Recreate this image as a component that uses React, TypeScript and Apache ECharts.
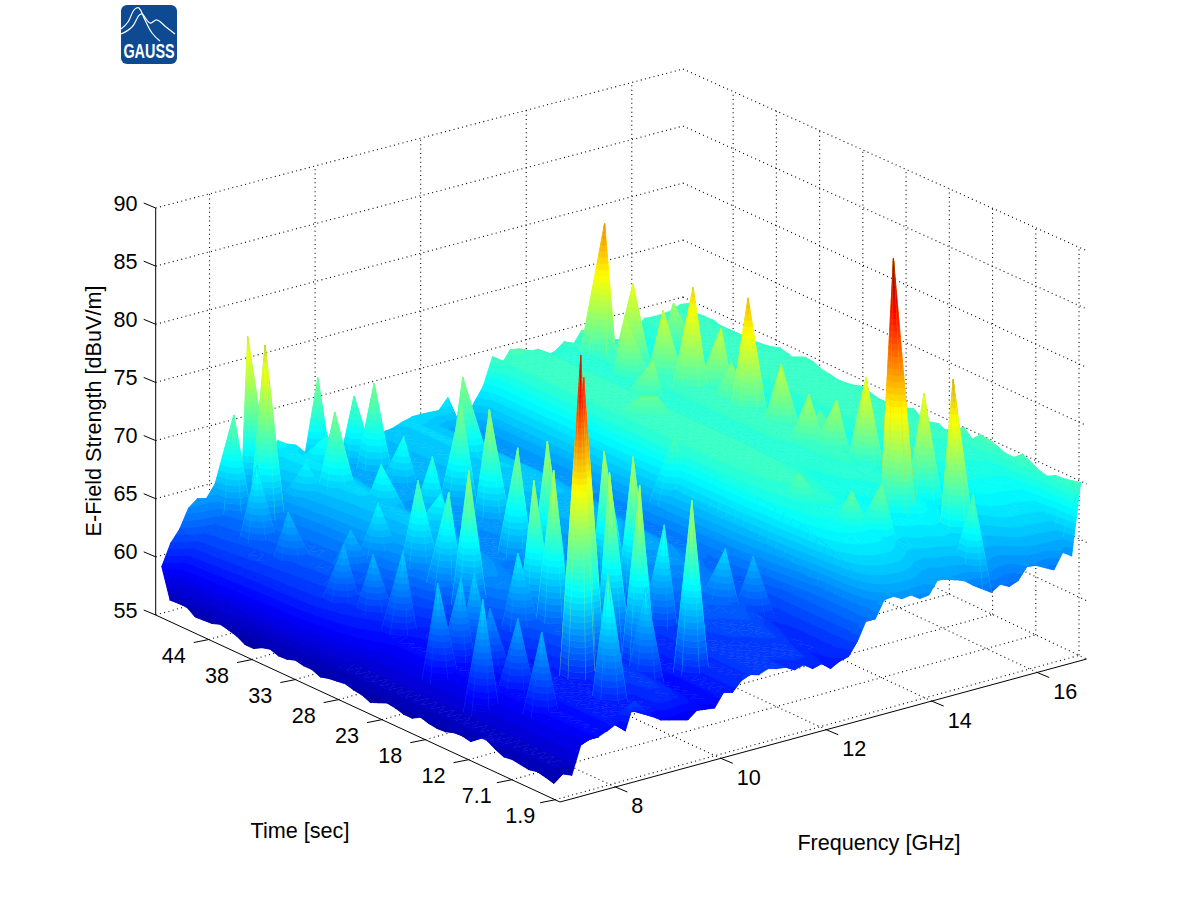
import React, { useEffect, useRef } from "react";
import * as echarts from "echarts";

const zTicks = [55, 60, 65, 70, 75, 80, 85, 90];
const freqTicks = [8, 10, 12, 14, 16];
const timeTickLabels = ["1.9", "7.1", "12", "18", "23", "28", "33", "38", "44"];

const FREQ_MIN = 6.95, FREQ_MAX = 16.94;
const TIME_MIN = 1.9, TIME_MAX = 50.1;
const DB_MIN = 55, DB_MAX = 90;
const COLOR_MIN = 55, COLOR_MAX = 88.5;

// dB along the front row (earliest time), low to high frequency
const frontEdge = [56.3,56.9,56.6,58.9,59.2,59.2,59.5,59.9,59.1,61.4,60.6,59.7,59.2,59,58.8,58.6,59.2,59.1,59,60.1,59.9,60.7,61,60.8,61.1,60.9,60.8,60.4,60.6,60.1,60.3,59.7,60.1,60.3,61.4,63,62.9,64.3,64.4,64,64.1,63.6,63.7,64.8,64.7,64.4,64.1,63.5,63,62.5,63,62.6,62.9,63.9,63.8,63.4,63,64.3,63.8,69.9];
// dB along the back row (latest time)
const backEdge = [59.4,61.2,62.2,63.8,64.4,64.2,65.3,65.5,65.5,66,66.4,66.6,66.9,67.5,67,66.7,65.6,64.9,64.7,64.5,64.9,64.9,64.9,65.1,65.3,65.8,65.9,66.2,66.4,66.4,66.35,66.3,67.2,65.2,64.9,66.2,67.4,69.7,68.8,69.9,69.75,69.3,69.3,68.5,68.7,69.3,68.8,69.9,69.5,69,68.6,68.2,68.2,68.6,69.45,69.4,69.4,69.5,69.8,69.7];
// dB along the lowest frequency, early to late
const lowFreqEdge = [56.3,56.5,56.65,56.5,56.6,56.7,56.6,56.9,57.3,57.3,56.6,56.75,56.7,56.45,56.4,56.5,56.7,56.3,56.3,56.5,56.6,56.3,56,56.3,56.4,56.6,56.5,56.4,56.2,56.5,56.5,56.65,56.4,56.35,56.6,56.4,56,56,56.4,56.6,56.75,56.5,56.45,56.4,56.9,56.9,56.85,59.4];
// dB along the highest frequency, early to late
const highFreqEdge = [69.9,69.7,69.55,69.5,69.1,69.3,69.7,70,69.4,69.4,69.7,69.9,70,69.3,70,69.4,68.9,69.3,69,69,69.6,69,69,69,69,69.2,69.5,69.2,68.9,69,69.2,69.3,69.6,69.7,68.9,69.3,69.5,69.2,68.9,68.9,69,68.8,68.6,68.9,69.2,69.2,68.8,69.7];
// settled dB level per frequency column
const plateau = [57,58.8,60.2,61.3,62,62.4,62.9,63.3,63.7,64.1,65,65.6,66.2,66.7,66.6,66.2,65.6,65,64.8,64.7,64.8,64.9,65,65.1,65.3,65.7,65.9,66,66,65.9,65.5,65,64.4,64,63.9,65,66.6,68.4,69.2,69.5,69.6,69.6,69.3,68.9,68.8,69.1,69.2,69.5,69.4,69,68.6,68.3,68.3,68.7,69.2,69.4,69.4,69.5,69.6,69.7];
// dB below the plateau per time row, upper-frequency block
const rowDrop = [5.5,4.6,3.9,3.3,2.8,2.4,2,1.7,1.45,1.2,1,0.85,0.7,0.55,0.45,0.35,0.25,0.2,0.15,0.1,0.1,0.05,0,0,0,0,0,0,0,0,0,0,0,0,0,0,0,0,0,0,0,0,0,0,0,0,0,0];
// dB below the plateau per time row, lower-frequency block
const lowRowDrop = [7,6.7,6.5,6.3,6.1,6,5.9,5.7,5.6,5.5,5.5,5.4,5.3,5.2,5.1,5,4.85,4.7,4.5,4.35,4.2,3.95,3.7,3.5,3.2,2.9,2.6,2.3,2.05,1.8,1.6,1.4,1.25,1.1,1.05,1,0.95,0.9,0.85,0.8,0.7,0.6,0.5,0.4,0.3,0.2,0.1,0];

// spikes: [GHz, sec, dB]
const peaks: number[][] = [
  [14.82,46.1,80.4],[14.96,43.6,75.8],[14.53,41.8,74.2],[14.93,39.8,74.8],[15.84,44.3,72.8],[14.99,36.6,77.8],
  [15.28,35.1,74.4],[15.03,30.3,78.9],[15.1,26.8,74.2],[14.96,22.6,73.2],[15.14,20.4,73.2],[15.38,23.9,70.9],
  [15.17,17.1,76.2],[14.73,11.06,88.9],[15.19,6.83,79.4],[15.45,11.94,76.2],[15.11,32.8,72.4],[14.3,37,72.2],
  [14.04,8.1,71.4],[13.65,9.24,70.9],[15.02,3.35,70.9],[13.54,14.9,70.7],[13.09,27,70.4],[13.58,34,70.9],[13.78,33.3,70.9],
  [8.84,11.3,87.3],[9.07,12.4,84.8],
  [8.58,49.4,77.2],[8.34,45.8,77.9],[8.08,47.9,71.5],[9.91,49.4,72],[9.2,42.9,72],[10.28,47.4,70.6],[10.39,45.7,72.1],
  [11.45,41.8,72.6],[10.74,37.5,72.6],[10.62,33.4,73.6],[10.25,27.7,72.6],[8.75,24.1,73.6],[8.82,30.6,70.6],[10.08,36.8,69.1],
  [10.41,42.3,68.6],[8.88,27.3,70.6],[9.51,32.2,68.1],[7.93,44.2,68.6],[8.89,44.4,67.6],[9.41,38.7,68.6],[7.98,40.8,65.6],
  [8.67,34.4,67.6],[9.55,46,68.6],[7.8,33,65.6],[8.03,27.4,66.6],[7.89,30.1,65.6],[8.26,35.1,65.6],[7.59,20.5,66.6],[8,20.3,66.6],
  [7.54,14.8,67.1],[9.03,20,67.6],[8.28,20.5,66.6],[9.27,19.6,73.6],[10.32,24.6,74.1],[9.31,17.5,75.1],[10.76,20.6,74],
  [9.75,13.6,75.6],[10.77,17.2,74.6],[9.78,10.2,75.6],[10.31,7.3,74.6],[10.9,14.3,69.6],[8.03,13.7,65.3],[7.86,9.8,65.6],
  [8.18,18,64.6],[9.64,8.6,67.6],[8.64,6.8,70.6],[11.93,13.5,66.6],[12.38,13,65.6],
];

const floorCorners = { f: [560, 802], r: [1086.7, 659], l: [155.7, 615], b: [683, 468] };
const topCorners = { f: [560, 382], r: [1086.7, 250.7], l: [155.7, 208], b: [683, 69] };

const N_F = plateau.length;
const N_T = rowDrop.length;
const STEP_COLUMN = 36;
const FIRST_ROW = 0.015, LAST_ROW = 0.985;
const TIME_TICK_START = 0.012, TIME_TICK_STEP = 0.1071;
const BANDS = 64;

function bil(c: any, u: number, v: number, k: number) {
  return c.f[k] * (1 - u) * (1 - v) + c.r[k] * u * (1 - v) + c.l[k] * (1 - u) * v + c.b[k] * u * v;
}
function project(u: number, v: number, db: number) {
  const w = (db - DB_MIN) / (DB_MAX - DB_MIN);
  return [
    bil(floorCorners, u, v, 0) * (1 - w) + bil(topCorners, u, v, 0) * w,
    bil(floorCorners, u, v, 1) * (1 - w) + bil(topCorners, u, v, 1) * w,
  ];
}
const uOfFreq = (f: number) => (f - FREQ_MIN) / (FREQ_MAX - FREQ_MIN);
const vOfTime = (t: number) => (t - TIME_MIN) / (TIME_MAX - TIME_MIN);

// the lowest level a column settles on behind its jagged front row
function columnFloor(i: number) {
  let sum = 0, n = 0;
  for (let k = Math.max(0, i - 2); k <= Math.min(N_F - 2, i + 2); k++) {
    sum += frontEdge[k];
    n++;
  }
  return sum / n;
}

function interiorLevel(i: number, j: number) {
  let z: number;
  if (i <= STEP_COLUMN) {
    const row = Math.min(N_T - 1, Math.round(j + Math.max(0, i - 8) * 0.6));
    z = plateau[i] - lowRowDrop[row];
  } else {
    z = plateau[i] - rowDrop[j];
  }
  return Math.max(57.1, z, columnFloor(i));
}

function buildMesh() {
  const mesh: number[][][] = [];
  for (let i = 0; i < N_F; i++) {
    const col: number[][] = [];
    for (let j = 0; j < N_T; j++) {
      let z: number;
      if (j === 0) z = frontEdge[i];
      else if (j === N_T - 1) z = backEdge[i];
      else if (i === 0) z = lowFreqEdge[j];
      else if (i === N_F - 1) z = highFreqEdge[j];
      else z = interiorLevel(i, j);
      col.push([i / (N_F - 1), FIRST_ROW + ((LAST_ROW - FIRST_ROW) * j) / (N_T - 1), z]);
    }
    mesh.push(col);
  }
  peaks.forEach(([f, t, db]) => {
    const u = uOfFreq(f), v = vOfTime(t);
    const i = Math.max(1, Math.min(N_F - 2, Math.round(u * (N_F - 1))));
    const j = Math.max(1, Math.min(N_T - 1, Math.round(((v - FIRST_ROW) / (LAST_ROW - FIRST_ROW)) * (N_T - 1))));
    mesh[i][j] = [u, v, db];
  });
  return mesh;
}

function jet(t: number) {
  const c = (x: number) => Math.round(255 * Math.max(0, Math.min(1, x)));
  return `rgb(${c(1.5 - Math.abs(4 * t - 3))},${c(1.5 - Math.abs(4 * t - 2))},${c(1.5 - Math.abs(4 * t - 1))})`;
}
const bandWidth = (COLOR_MAX - COLOR_MIN) / BANDS;
const bandColors = Array.from({ length: BANDS }, (_, k) => jet((k + 0.5) / BANDS));
const bandOf = (z: number) => Math.max(0, Math.min(BANDS - 1, Math.floor((z - COLOR_MIN) / bandWidth)));

function clipAbove(poly: number[][], lim: number, keepAbove: boolean) {
  const out: number[][] = [];
  for (let k = 0; k < poly.length; k++) {
    const a = poly[k], b = poly[(k + 1) % poly.length];
    const ia = keepAbove ? a[2] >= lim : a[2] <= lim;
    const ib = keepAbove ? b[2] >= lim : b[2] <= lim;
    if (ia) out.push(a);
    if (ia !== ib) {
      const s = (lim - a[2]) / (b[2] - a[2]);
      out.push([a[0] + (b[0] - a[0]) * s, a[1] + (b[1] - a[1]) * s, lim]);
    }
  }
  return out;
}

function poly2el(poly: number[][], col: string) {
  return {
    type: "polygon",
    silent: true,
    shape: { points: poly.map((p) => [p[0], p[1]]) },
    style: { fill: col, stroke: col, lineWidth: 0.5 },
  };
}

function triangleBands(tri: number[][], children: any[]) {
  const zs = tri.map((p) => p[2]);
  const b0 = bandOf(Math.min(...zs)), b1 = bandOf(Math.max(...zs));
  if (b1 > b0) children.push(poly2el(tri, bandColors[Math.round((b0 + b1) / 2)]));
  for (let b = b0; b <= b1; b++) {
    let poly = tri;
    if (b > b0) poly = clipAbove(poly, COLOR_MIN + b * bandWidth, true);
    if (b < b1 && poly.length) poly = clipAbove(poly, COLOR_MIN + (b + 1) * bandWidth, false);
    if (poly.length < 3) continue;
    children.push(poly2el(poly, bandColors[b]));
  }
}

const FONT = "Liberation Sans, Arial, sans-serif";
const FS = 21.6;

function App() {
  const ref = useRef<HTMLDivElement>(null);
  useEffect(() => {
    document.body.style.margin = "0";
    const chart = echarts.init(ref.current!, undefined, { renderer: "svg" });
    const mesh = buildMesh();

    const cells: number[][] = [];
    for (let i = N_F - 2; i >= 0; i--) for (let j = N_T - 2; j >= 0; j--) cells.push([i, j]);

    const renderCell = (_p: any, api: any) => {
      const i = api.value(0), j = api.value(1);
      const vert = (a: number, b: number) => {
        const m = mesh[a][b];
        const c = api.coord(project(m[0], m[1], m[2]));
        return [c[0], c[1], m[2]];
      };
      const a = vert(i, j), b = vert(i + 1, j), c = vert(i, j + 1), d = vert(i + 1, j + 1);
      const children: any[] = [];
      triangleBands([b, d, c], children);
      triangleBands([a, b, c], children);
      return { type: "group", children };
    };

    const tickV = timeTickLabels.map((_, k) => TIME_TICK_START + k * TIME_TICK_STEP);
    const segs: number[][] = [];
    zTicks.forEach((z) => {
      segs.push([0, 1, z, 1, 1, z, 0]);
      segs.push([1, 1, z, 1, 0, z, 0]);
    });
    freqTicks.forEach((f) => {
      const u = uOfFreq(f);
      segs.push([u - 0.003, 1, DB_MIN, u - 0.003, 1, DB_MAX, 0]);
      segs.push([u, 0, DB_MIN, u - 0.003, 1, DB_MIN, 0]);
    });
    tickV.forEach((v) => {
      segs.push([1, v + 0.007, DB_MIN, 1, v + 0.007, DB_MAX, 0]);
      segs.push([0, v, DB_MIN, 1, v + 0.007, DB_MIN, 0]);
    });
    segs.push([0, 1, DB_MIN, 0, 1, DB_MAX, 1]);
    segs.push([0, 1, DB_MIN, 0, 0, DB_MIN, 1]);
    segs.push([0, 0, DB_MIN, 1, 0, DB_MIN, 1]);

    const renderSeg = (_p: any, api: any) => {
      const p0 = api.coord(project(api.value(0), api.value(1), api.value(2)));
      const p1 = api.coord(project(api.value(3), api.value(4), api.value(5)));
      const solid = api.value(6) === 1;
      return {
        type: "line",
        silent: true,
        shape: { x1: p0[0], y1: p0[1], x2: p1[0], y2: p1[1] },
        style: { stroke: "#000", lineWidth: solid ? 1 : 1.1, lineDash: solid ? null : [1, 3.4] },
      };
    };

    const tickItems: number[][] = [];
    zTicks.forEach((_, k) => tickItems.push([0, k]));
    timeTickLabels.forEach((_, k) => tickItems.push([1, k]));
    freqTicks.forEach((_, k) => tickItems.push([2, k]));

    const renderTick = (_p: any, api: any) => {
      const kind = api.value(0), k = api.value(1);
      let p: number[], dx: number, dy: number, text: string, lx: number, ly: number, align: string;
      if (kind === 0) {
        p = api.coord(project(0, 1, zTicks[k]));
        dx = -12; dy = -5; text = String(zTicks[k]); lx = 137.5; ly = p[1] - 5; align = "right";
      } else if (kind === 1) {
        p = api.coord(project(0, tickV[k], DB_MIN));
        dx = -15; dy = 3; text = timeTickLabels[k]; lx = p[0] - 35; ly = p[1] + 16; align = "center";
      } else {
        p = api.coord(project(uOfFreq(freqTicks[k]), 0, DB_MIN));
        dx = 12; dy = 5; text = String(freqTicks[k]); lx = p[0] + 16; ly = p[1] + 19; align = "left";
      }
      return {
        type: "group",
        silent: true,
        children: [
          { type: "line", shape: { x1: p[0], y1: p[1], x2: p[0] + dx, y2: p[1] + dy }, style: { stroke: "#000", lineWidth: 1 } },
          { type: "text", style: { text, x: lx, y: ly, fill: "#000", font: `${FS}px ${FONT}`, textAlign: align, textVerticalAlign: "middle" } },
        ],
      };
    };

    chart.setOption({
      animation: false,
      backgroundColor: "#fff",
      grid: { left: 0, right: 0, top: 0, bottom: 0 },
      xAxis: { type: "value", min: 0, max: 1201, show: false },
      yAxis: { type: "value", min: 0, max: 901, inverse: true, show: false },
      series: [
        { type: "custom", clip: false, silent: true, data: segs, renderItem: renderSeg, encode: { x: 0, y: 1 } },
        { type: "custom", clip: false, silent: true, data: cells, renderItem: renderCell, progressive: 0, encode: { x: 0, y: 1 } },
        { type: "custom", clip: false, silent: true, data: tickItems, renderItem: renderTick, encode: { x: 0, y: 1 } },
      ],
      graphic: [
        { type: "text", x: 93, y: 411, rotation: Math.PI / 2, style: { text: "E-Field Strength [dBuV/m]", fill: "#000", font: `${FS}px ${FONT}`, textAlign: "center", textVerticalAlign: "middle" } },
        { type: "text", x: 300, y: 830, style: { text: "Time [sec]", fill: "#000", font: `${FS}px ${FONT}`, textAlign: "center", textVerticalAlign: "middle" } },
        { type: "text", x: 879, y: 842, style: { text: "Frequency [GHz]", fill: "#000", font: `${FS}px ${FONT}`, textAlign: "center", textVerticalAlign: "middle" } },
        { type: "rect", shape: { x: 121, y: 5, width: 56, height: 59, r: 6 }, style: { fill: "#0d4a92" } },
        { type: "polyline", shape: { points: [[121, 29], [128, 22], [134, 10], [139, 8], [145, 20], [152, 33], [160, 41]], smooth: 0.4 }, style: { stroke: "#fff", fill: null, lineWidth: 1.2 } },
        { type: "polyline", shape: { points: [[121, 34], [132, 27], [141, 14], [150, 23], [157, 20], [166, 27], [175, 34]], smooth: 0.4 }, style: { stroke: "#fff", fill: null, lineWidth: 1.2 } },
        { type: "text", x: 149, y: 51, scaleX: 0.72, style: { text: "GAUSS", fill: "#fff", font: `bold 20px ${FONT}`, textAlign: "center", textVerticalAlign: "middle" } },
      ],
    });
    return () => chart.dispose();
  }, []);
  return <div ref={ref} style={{ position: "absolute", left: 0, top: 0, width: 1201, height: 901 }} />;
}

export default App;
